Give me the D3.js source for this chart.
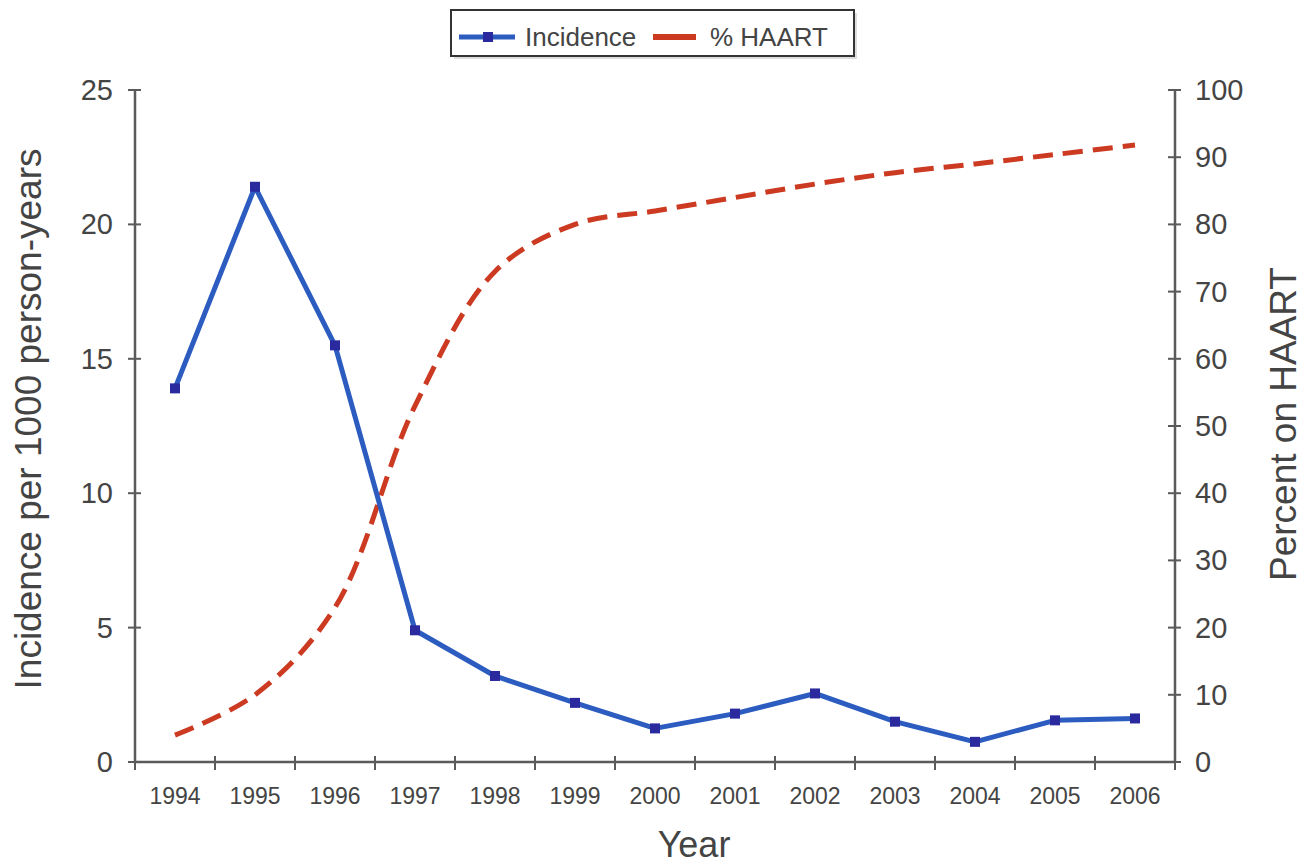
<!DOCTYPE html>
<html><head><meta charset="utf-8">
<script src="https://cdn.jsdelivr.net/npm/d3@7"></script>
<style>body{margin:0;background:#fff}svg{display:block}</style>
</head><body>
<svg id="c" width="1314" height="867"></svg>
<script>
const years = ["1994","1995","1996","1997","1998","1999","2000","2001","2002","2003","2004","2005","2006"];
const incidence = [13.9,21.4,15.5,4.9,3.2,2.2,1.25,1.8,2.55,1.5,0.75,1.55,1.62];
const haart = [4.0,10.0,23.0,53.0,73.0,80.0,82.0,84.0,86.0,87.7,89.0,90.4,91.8];
const leftTicks = [0,5,10,15,20,25];
const rightTicks = [0,10,20,30,40,50,60,70,80,90,100];

const svg = d3.select("#c");
const L = 135, R = 1175, T = 90, B = 762;
const font = "'Liberation Sans', Arial, Helvetica, sans-serif";
const axisCol = "#5a5a5a", textCol = "#444";

const x = d3.scaleBand().domain(years).range([L, R]).padding(0);
const yL = d3.scaleLinear().domain([0,25]).range([B, T]);
const yR = d3.scaleLinear().domain([0,100]).range([B, T]);
const cx = d => x(d) + x.bandwidth()/2;

// X axis
const gx = svg.append("g").attr("transform", `translate(0,${B})`);
gx.append("line").attr("x1", L).attr("x2", R).attr("stroke", axisCol).attr("stroke-width", 2.5);
const bounds = years.map(d => x(d)).concat([R]);
gx.selectAll("line.t").data(bounds).join("line").attr("class","t")
  .attr("x1", d=>d).attr("x2", d=>d).attr("y1", -6).attr("y2", 8)
  .attr("stroke", axisCol).attr("stroke-width", 2);
gx.selectAll("text").data(years).join("text")
  .attr("x", d => cx(d)).attr("y", 42).attr("text-anchor","middle")
  .attr("font-family", font).attr("font-size", 23).attr("fill", textCol).text(d=>d);

// Left axis
const gl = svg.append("g").attr("transform", `translate(${L},0)`);
gl.append("line").attr("y1", T).attr("y2", B).attr("stroke", axisCol).attr("stroke-width", 2.5);
gl.selectAll("line.t").data(leftTicks).join("line").attr("class","t")
  .attr("x1", -7).attr("x2", 6).attr("y1", d=>yL(d)).attr("y2", d=>yL(d))
  .attr("stroke", axisCol).attr("stroke-width", 2);
gl.selectAll("text").data(leftTicks).join("text")
  .attr("x", -22).attr("y", d=>yL(d)+10).attr("text-anchor","end")
  .attr("font-family", font).attr("font-size", 29).attr("fill", textCol).text(d=>d);

// Right axis
const gr = svg.append("g").attr("transform", `translate(${R},0)`);
gr.append("line").attr("y1", T).attr("y2", B).attr("stroke", axisCol).attr("stroke-width", 2.5);
gr.selectAll("line.t").data(rightTicks).join("line").attr("class","t")
  .attr("x1", -7).attr("x2", 6).attr("y1", d=>yR(d)).attr("y2", d=>yR(d))
  .attr("stroke", axisCol).attr("stroke-width", 2);
gr.selectAll("text").data(rightTicks).join("text")
  .attr("x", 20).attr("y", d=>yR(d)+10).attr("text-anchor","start")
  .attr("font-family", font).attr("font-size", 29).attr("fill", textCol).text(d=>d);

// Axis titles
svg.append("text").attr("transform", `translate(41,419) rotate(-90)`)
  .attr("text-anchor","middle").attr("font-family", font).attr("font-size", 37).attr("fill", textCol)
  .text("Incidence per 1000 person-years");
svg.append("text").attr("transform", `translate(1296,424) rotate(-90)`)
  .attr("text-anchor","middle").attr("font-family", font).attr("font-size", 37).attr("fill", textCol)
  .text("Percent on HAART");
svg.append("text").attr("x", 694).attr("y", 857).attr("text-anchor","middle")
  .attr("font-family", font).attr("font-size", 36).attr("fill", textCol).text("Year");

// HAART line (smoothed, dashed)
const lineR = d3.line().x((d,i)=>cx(years[i])).y(d=>yR(d)).curve(d3.curveCatmullRom.alpha(0.5));
svg.append("path").datum(haart).attr("d", lineR).attr("fill","none")
  .attr("stroke", "#cc3a22").attr("stroke-width", 5).attr("stroke-dasharray", "20,10");

// Incidence line
const lineL = d3.line().x((d,i)=>cx(years[i])).y(d=>yL(d));
svg.append("path").datum(incidence).attr("d", lineL).attr("fill","none")
  .attr("stroke", "#2c5cc0").attr("stroke-width", 5).attr("stroke-linejoin","round");
svg.selectAll("rect.m").data(incidence).join("rect").attr("class","m")
  .attr("x", (d,i)=>cx(years[i])-5).attr("y", d=>yL(d)-5).attr("width", 10).attr("height", 10)
  .attr("fill", "#2a2a9e");

// Legend
const lg = svg.append("g");
lg.append("rect").attr("x", 454).attr("y", 13).attr("width", 403).attr("height", 46).attr("fill", "#ddd");
lg.append("rect").attr("x", 451).attr("y", 10).attr("width", 403).attr("height", 46)
  .attr("fill", "#fff").attr("stroke", "#333").attr("stroke-width", 2);
lg.append("line").attr("x1", 459).attr("x2", 515).attr("y1", 37).attr("y2", 37)
  .attr("stroke", "#2c5cc0").attr("stroke-width", 5);
lg.append("rect").attr("x", 483).attr("y", 32).attr("width", 10).attr("height", 10).attr("fill", "#2a2a9e");
lg.append("text").attr("x", 525).attr("y", 46).attr("font-family", font).attr("font-size", 26)
  .attr("fill", textCol).text("Incidence");
lg.append("line").attr("x1", 653).attr("x2", 696).attr("y1", 37).attr("y2", 37)
  .attr("stroke", "#cc3a22").attr("stroke-width", 6);
lg.append("text").attr("x", 710).attr("y", 46).attr("font-family", font).attr("font-size", 26)
  .attr("fill", textCol).text("% HAART");
</script>
</body></html>
